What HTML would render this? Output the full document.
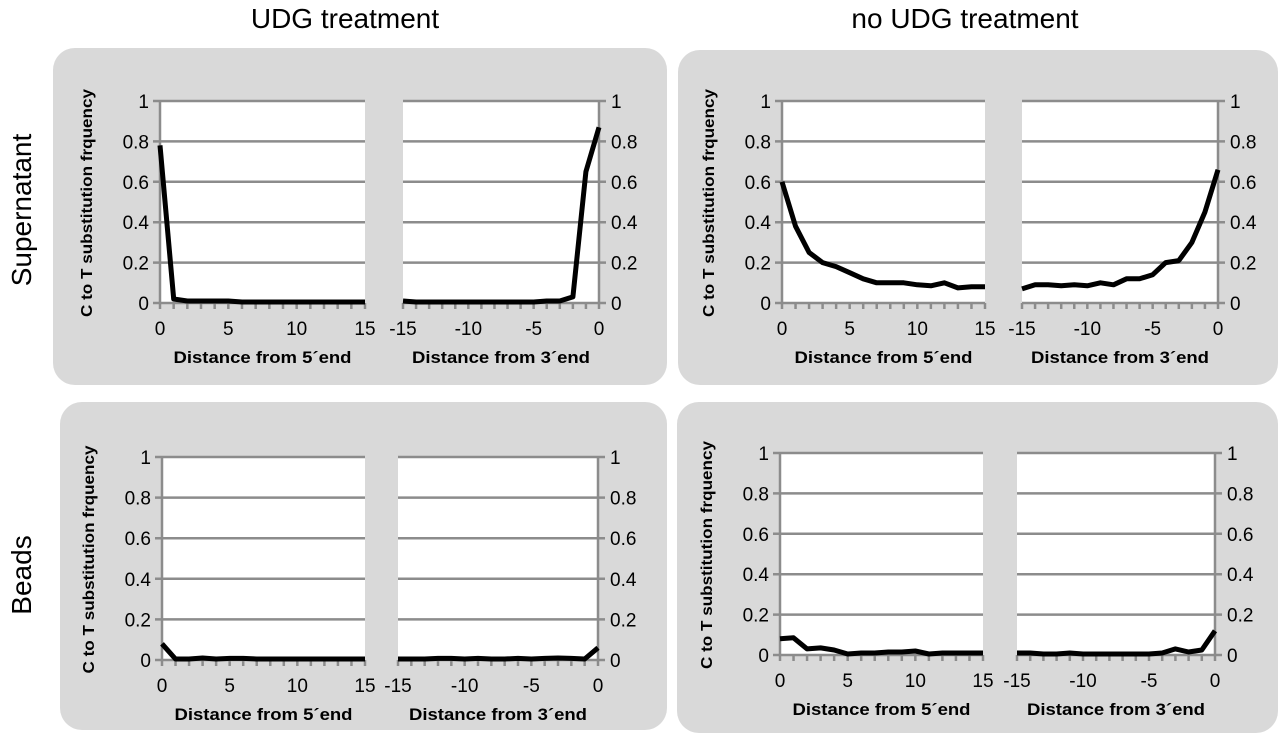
<!DOCTYPE html>
<html><head><meta charset="utf-8"><style>
body{margin:0;background:#fff;width:1280px;height:735px;overflow:hidden}
svg{display:block;font-family:"Liberation Sans",Arial,sans-serif}
</style></head><body>
<svg id="chart" width="1280" height="735">
<text x="345" y="28" font-size="28" text-anchor="middle">UDG treatment</text>
<text x="965" y="28" font-size="28" text-anchor="middle">no UDG treatment</text>
<text transform="translate(31,210) rotate(-90)" font-size="28" text-anchor="middle">Supernatant</text>
<text transform="translate(31,575) rotate(-90)" font-size="28" text-anchor="middle">Beads</text>
</svg>
<script>
const xTicks5 = [0,5,10,15];
const xTicks3 = [-15,-10,-5,0];
const yTicks = [0,0.2,0.4,0.6,0.8,1];
const pos5 = [0,1,2,3,4,5,6,7,8,9,10,11,12,13,14,15];
const pos3 = [-15,-14,-13,-12,-11,-10,-9,-8,-7,-6,-5,-4,-3,-2,-1,0];
const supUdg5 = [0.78,0.02,0.01,0.01,0.01,0.01,0.005,0.005,0.005,0.005,0.005,0.005,0.005,0.005,0.005,0.005];
const supUdg3 = [0.01,0.005,0.005,0.005,0.005,0.005,0.005,0.005,0.005,0.005,0.005,0.01,0.01,0.03,0.65,0.87];
const supNo5 = [0.6,0.38,0.25,0.2,0.18,0.15,0.12,0.1,0.1,0.1,0.09,0.085,0.1,0.075,0.08,0.08];
const supNo3 = [0.07,0.09,0.09,0.085,0.09,0.085,0.1,0.09,0.12,0.12,0.14,0.2,0.21,0.3,0.45,0.66];
const beadUdg5 = [0.08,0.005,0.005,0.01,0.005,0.008,0.008,0.005,0.005,0.005,0.005,0.005,0.005,0.005,0.005,0.005];
const beadUdg3 = [0.005,0.005,0.005,0.008,0.008,0.005,0.008,0.005,0.005,0.008,0.005,0.008,0.01,0.008,0.005,0.06];
const beadNo5 = [0.08,0.085,0.03,0.035,0.025,0.005,0.01,0.01,0.015,0.015,0.02,0.005,0.01,0.01,0.01,0.01];
const beadNo3 = [0.01,0.01,0.005,0.005,0.01,0.005,0.005,0.005,0.005,0.005,0.005,0.01,0.03,0.015,0.025,0.12];

const NS="http://www.w3.org/2000/svg";
const svg=document.getElementById('chart');
function mk(tag,attrs,parent){const e=document.createElementNS(NS,tag);for(const k in attrs)e.setAttribute(k,attrs[k]);(parent||svg).appendChild(e);return e;}

const panels=[
 {box:[53,48,614,337],y1:101,y0:303,l:[160,365],r:[403,599],d5:supUdg5,d3:supUdg3,id:'supernatant-udg'},
 {box:[678,50,600,335],y1:101,y0:303,l:[782,985],r:[1022,1218],d5:supNo5,d3:supNo3,id:'supernatant-no-udg'},
 {box:[60,402,607,328],y1:457,y0:660,l:[162,365],r:[398,598],d5:beadUdg5,d3:beadUdg3,id:'beads-udg'},
 {box:[677,402,601,331],y1:453,y0:655,l:[780,983],r:[1017,1215],d5:beadNo5,d3:beadNo3,id:'beads-no-udg'}
];
panels.forEach(p=>{
 const g=mk('g',{});
 
 
 const bg=mk('rect',{x:p.box[0],y:p.box[1],width:p.box[2],height:p.box[3],rx:22,fill:'#d9d9d9'},g);
 
 
 const Y=v=>p.y0+(p.y1-p.y0)*v;
 [[p.l,0,15,p.d5,pos5,xTicks5,'Distance from 5\u00b4end','left'],[p.r,-15,0,p.d3,pos3,xTicks3,'Distance from 3\u00b4end','right']].forEach(([rng,a,b,data,pos,ticks,title,side])=>{
  const X=v=>rng[0]+(rng[1]-rng[0])*(v-a)/(b-a);
  const sg=mk('g',{},g);
  
  
  mk('rect',{x:rng[0],y:Y(1),width:rng[1]-rng[0],height:Y(0)-Y(1),fill:'#fff'},sg);
  yTicks.forEach(t=>{
   const x1 = side==='left'? rng[0]-7 : rng[0];
   const x2 = side==='left'? rng[1] : rng[1]+7;
   const gl=mk('line',{x1:x1,x2:x2,y1:Y(t),y2:Y(t),stroke:'#8c8c8c','stroke-width':2.5},sg);
   
   
   const lbl=mk('text',{x: side==='left'? rng[0]-11 : rng[1]+12, y:Y(t)+7,'font-size':19,'text-anchor': side==='left'?'end':'start'},sg);
   lbl.textContent=String(t);
   
   
  });
  const axX = side==='left'? rng[0] : rng[1];
  mk('line',{x1:axX,x2:axX,y1:Y(1),y2:Y(0),stroke:'#8c8c8c','stroke-width':2.5},sg);
  pos.forEach(v=>{mk('line',{x1:X(v),x2:X(v),y1:Y(0),y2:Y(0)+6,stroke:'#8c8c8c','stroke-width':2.5},sg);});
  ticks.forEach(t=>{
   const tl=mk('text',{x:X(t),y:Y(0)+32,'font-size':19,'text-anchor':'middle'},sg);
   tl.textContent=String(t);
   
   
  });
  const xt=mk('text',{x:(rng[0]+rng[1])/2,y:Y(0)+60,'font-size':17,'font-weight':'bold','text-anchor':'middle',textLength:178,lengthAdjust:'spacingAndGlyphs'},sg);
  xt.textContent=title;
  
  
  const d=data.map((v,i)=>(i?'L':'M')+X(pos[i]).toFixed(1)+','+Y(v).toFixed(1)).join(' ');
  const ln=mk('path',{d:d,fill:'none',stroke:'#000','stroke-width':5,'stroke-linejoin':'round'},sg);
  
  
 });
 const yt=mk('text',{transform:`translate(${p.l[0]-68},${(p.y0+p.y1)/2+1}) rotate(-90)`,'font-size':16,'font-weight':'bold','text-anchor':'middle',textLength:228,lengthAdjust:'spacingAndGlyphs'},g);
 yt.textContent='C to T substitution frquency';
 
 
});
</script>
</body></html>
